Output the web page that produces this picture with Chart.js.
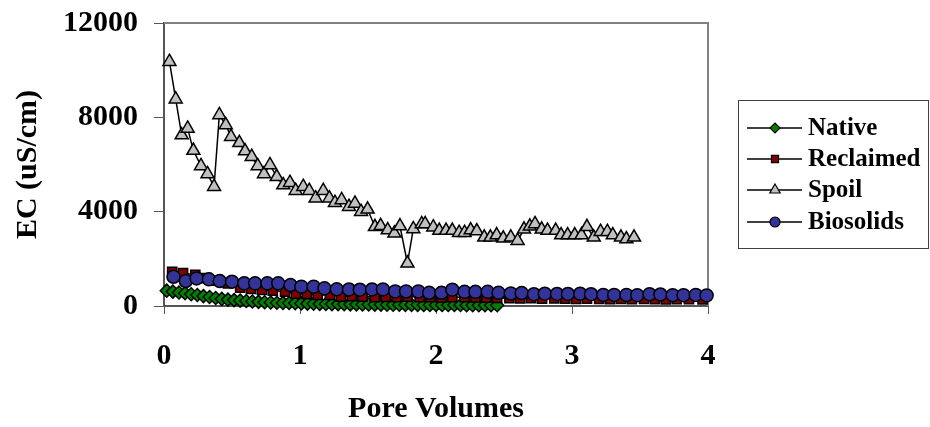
<!DOCTYPE html>
<html>
<head>
<meta charset="utf-8">
<script src="https://cdn.jsdelivr.net/npm/chart.js@4.4.1/dist/chart.umd.min.js"></script>
<style>
  html, body { margin: 0; padding: 0; background: #fff; }
  #wrap { width: 930px; height: 427px; position: relative; }
</style>
</head>
<body>
<div id="wrap"><canvas id="grafica"></canvas></div>
<script>
// datos
const seriesNames = ['Native', 'Reclaimed', 'Spoil', 'Biosolids'];
const xTicks = [0, 1, 2, 3, 4];
const yTicks = [0, 4000, 8000, 12000];

const nativeX = [0.02, 0.065, 0.11, 0.155, 0.2, 0.245, 0.29, 0.335, 0.38, 0.425, 0.47, 0.515, 0.56, 0.605, 0.65, 0.695, 0.74, 0.785, 0.83, 0.875, 0.92, 0.965, 1.01, 1.055, 1.1, 1.145, 1.19, 1.235, 1.28, 1.325, 1.37, 1.415, 1.46, 1.505, 1.55, 1.595, 1.64, 1.685, 1.73, 1.775, 1.82, 1.865, 1.91, 1.955, 2.0, 2.045, 2.09, 2.135, 2.18, 2.225, 2.27, 2.315, 2.36, 2.405, 2.45];
const nativeY = [650, 610, 570, 540, 500, 465, 420, 380, 340, 300, 270, 250, 230, 210, 190, 175, 160, 150, 140, 130, 125, 115, 110, 100, 95, 90, 85, 80, 80, 75, 70, 70, 65, 65, 60, 60, 55, 55, 55, 50, 50, 50, 45, 45, 45, 40, 40, 40, 40, 35, 35, 35, 30, 30, 30];

const reclaimedX = [0.06, 0.14, 0.23, 0.31, 0.39, 0.47, 0.56, 0.64, 0.72, 0.8, 0.89, 0.97, 1.05, 1.13, 1.22, 1.3, 1.38, 1.46, 1.55, 1.63, 1.71, 1.79, 1.88, 1.96, 2.04, 2.12, 2.21, 2.29, 2.37, 2.45, 2.54, 2.62, 2.7, 2.78, 2.87, 2.95, 3.03, 3.11, 3.2, 3.28, 3.36, 3.44, 3.53, 3.61, 3.69, 3.77, 3.86, 3.96];
const reclaimedY = [1450, 1400, 1320, 1180, 1080, 960, 780, 720, 680, 650, 610, 520, 510, 470, 470, 400, 420, 400, 380, 390, 370, 400, 380, 370, 350, 380, 370, 360, 350, 340, 330, 320, 330, 310, 320, 310, 300, 310, 300, 290, 300, 290, 300, 290, 280, 290, 290, 280];

const spoilX = [0.04, 0.086, 0.13, 0.174, 0.216, 0.272, 0.32, 0.368, 0.407, 0.454, 0.493, 0.554, 0.596, 0.645, 0.689, 0.735, 0.779, 0.829, 0.877, 0.926, 0.968, 1.024, 1.068, 1.115, 1.171, 1.216, 1.257, 1.306, 1.36, 1.404, 1.449, 1.497, 1.551, 1.593, 1.645, 1.694, 1.735, 1.79, 1.833, 1.895, 1.92, 1.98, 2.024, 2.074, 2.12, 2.17, 2.21, 2.255, 2.3, 2.355, 2.4, 2.446, 2.495, 2.55, 2.6, 2.647, 2.69, 2.728, 2.777, 2.82, 2.88, 2.92, 2.968, 3.02, 3.07, 3.11, 3.16, 3.21, 3.26, 3.3, 3.36, 3.4, 3.456];
const spoilY = [10360, 8770, 7250, 7530, 6590, 5940, 5600, 5060, 8100, 7680, 7180, 6920, 6570, 6330, 5940, 5600, 5980, 5480, 5130, 5230, 4890, 5060, 4890, 4570, 4890, 4570, 4380, 4500, 4210, 4350, 4000, 4100, 3360, 3400, 3220, 3080, 3390, 1810, 3270, 3480, 3480, 3340, 3200, 3200, 3200, 3110, 3110, 3220, 3180, 2910, 2910, 3010, 2870, 2910, 2770, 3250, 3380, 3480, 3250, 3200, 3200, 3010, 3010, 3010, 3010, 3360, 2910, 3150, 3150, 3010, 2910, 2840, 2910];

const biosolidsX = [0.07, 0.16, 0.24, 0.33, 0.41, 0.5, 0.59, 0.67, 0.76, 0.84, 0.93, 1.01, 1.1, 1.18, 1.27, 1.36, 1.44, 1.53, 1.61, 1.7, 1.78, 1.87, 1.95, 2.04, 2.12, 2.21, 2.29, 2.38, 2.46, 2.55, 2.63, 2.72, 2.8, 2.89, 2.97, 3.06, 3.14, 3.23, 3.31, 3.4, 3.48, 3.57, 3.65, 3.74, 3.82, 3.91, 3.99];
const biosolidsY = [1240, 1060, 1170, 1130, 1060, 1030, 960, 960, 960, 960, 890, 820, 820, 750, 710, 700, 690, 700, 700, 620, 620, 620, 560, 560, 690, 600, 600, 600, 560, 530, 550, 500, 520, 510, 510, 520, 500, 470, 470, 470, 460, 500, 490, 460, 460, 470, 450];

const toPoints = (xs, ys) => xs.map((x, i) => ({ x: x, y: ys[i] }));

const fuenteTicks = { family: 'Liberation Serif', size: 30, weight: 'bold', lineHeight: 1.2 };

const estilos = [
    { color: '#008000', style: 'rectRot', radius: 6.5, order: 4 },
    { color: '#800000', style: 'rect', radius: 6.5, order: 3 },
    { color: '#C0C0C0', style: 'triangle', radius: 7.5, order: 2 },
    { color: '#333399', style: 'circle', radius: 6.5, order: 1 }
];
const valores = [
    toPoints(nativeX, nativeY),
    toPoints(reclaimedX, reclaimedY),
    toPoints(spoilX, spoilY),
    toPoints(biosolidsX, biosolidsY)
];

// marco gris del area de trazado
const marcoPlugin = {
    id: 'marco',
    beforeDatasetsDraw(chart) {
        const a = chart.chartArea;
        const ctx = chart.ctx;
        ctx.save();
        ctx.strokeStyle = '#808080';
        ctx.lineWidth = 2;
        ctx.beginPath();
        ctx.moveTo(a.left, a.top);
        ctx.lineTo(a.right, a.top);
        ctx.lineTo(a.right, a.bottom);
        ctx.stroke();
        ctx.restore();
    }
};

// leyenda dibujada a mano, como en Excel
const leyendaPlugin = {
    id: 'leyenda',
    afterDraw(chart) {
        const ctx = chart.ctx;
        ctx.save();
        ctx.strokeStyle = '#404040';
        ctx.lineWidth = 1;
        ctx.strokeRect(738.5, 100.5, 190, 148);
        const filas = [128, 159, 190, 222];
        seriesNames.forEach((nombre, i) => {
            const y = filas[i];
            ctx.strokeStyle = '#000';
            ctx.lineWidth = 1.5;
            ctx.beginPath();
            ctx.moveTo(747, y);
            ctx.lineTo(802, y);
            ctx.stroke();
            ctx.fillStyle = estilos[i].color;
            ctx.strokeStyle = '#000';
            ctx.lineWidth = 1.2;
            Chart.helpers.drawPoint(ctx, {
                pointStyle: estilos[i].style,
                radius: estilos[i].style === 'triangle' ? 6 : 5,
                borderWidth: 1.2,
                rotation: 0
            }, 775, y);
            ctx.fillStyle = '#000';
            ctx.font = 'bold 25px "Liberation Serif"';
            ctx.textBaseline = 'middle';
            ctx.fillText(nombre, 808, y + 1);
        });
        ctx.restore();
    }
};

const ctx = document.getElementById('grafica').getContext('2d');
const chart = new Chart(ctx, {
    type: 'scatter',
    data: {
        datasets: seriesNames.map((nombre, i) => ({
            label: nombre,
            data: valores[i],
            showLine: true,
            borderColor: '#000',
            borderWidth: 1.5,
            pointStyle: estilos[i].style,
            pointRadius: estilos[i].radius,
            pointBackgroundColor: estilos[i].color,
            pointBorderColor: '#000',
            pointBorderWidth: 1.5,
            order: estilos[i].order,
            clip: false
        }))
    },
    options: {
        responsive: true,
        maintainAspectRatio: false,
        animation: false,
        layout: { padding: { top: 23, right: 222, left: 0, bottom: 0 } },
        plugins: {
            legend: { display: false },
            tooltip: { enabled: false }
        },
        scales: {
            x: {
                type: 'linear',
                min: 0,
                max: 4,
                afterFit: (scale) => {
                    scale.height = 121;
                    scale.paddingLeft = 0;
                    scale.paddingRight = 0;
                },
                afterBuildTicks: (scale) => { scale.ticks = xTicks.map(v => ({ value: v })); },
                ticks: { font: fuenteTicks, color: '#000', padding: 24, callback: (v) => String(v) },
                grid: { drawOnChartArea: false, drawTicks: true, tickLength: 8, color: '#555' },
                border: { color: '#555', width: 2 },
                title: { display: true, text: 'Pore Volumes', color: '#000', font: fuenteTicks, padding: { top: 0, bottom: 0 } }
            },
            y: {
                type: 'linear',
                min: 0,
                max: 12000,
                afterFit: (scale) => {
                    scale.width = 164;
                    scale.paddingTop = 0;
                    scale.paddingBottom = 0;
                },
                afterBuildTicks: (scale) => { scale.ticks = yTicks.map(v => ({ value: v })); },
                ticks: { font: fuenteTicks, color: '#000', padding: 16, callback: (v) => String(v) },
                grid: { drawOnChartArea: false, drawTicks: true, tickLength: 10, color: '#555' },
                border: { color: '#555', width: 2 },
                title: { display: true, text: 'EC (uS/cm)', color: '#000', font: fuenteTicks, padding: { top: 10, bottom: 0 } }
            }
        }
    },
    plugins: [marcoPlugin, leyendaPlugin]
});
</script>
</body>
</html>
